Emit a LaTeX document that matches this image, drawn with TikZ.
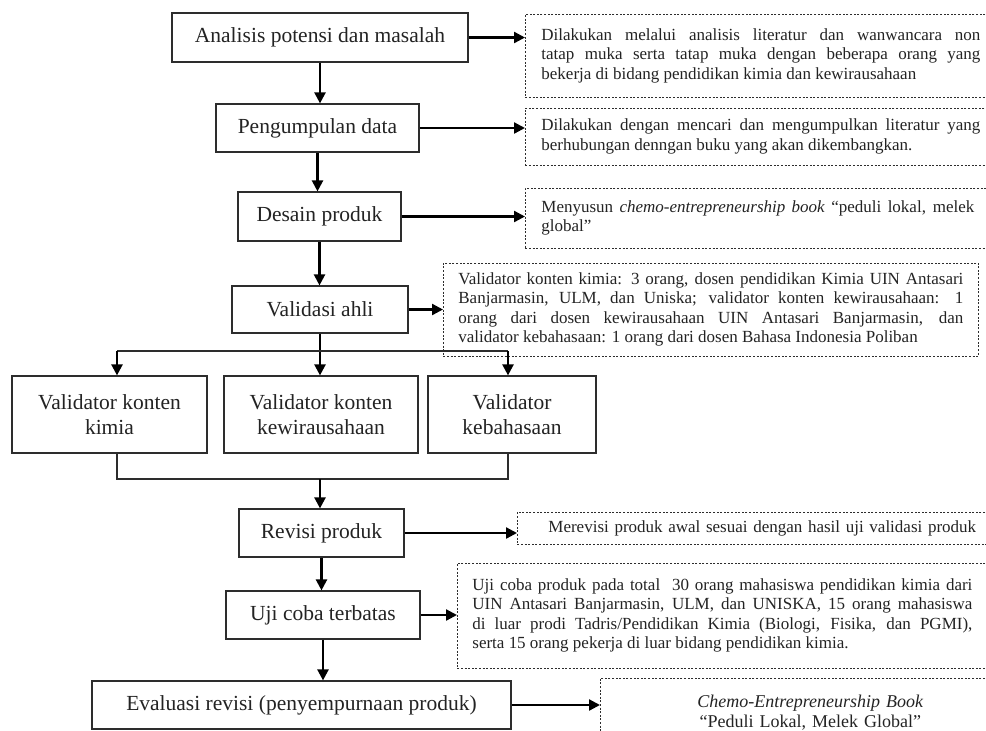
\documentclass[tikz,border=0pt]{standalone}
\usepackage{fontspec}
\setmainfont{Liberation Serif}
\usetikzlibrary{arrows.meta}
\definecolor{txt}{RGB}{35,35,35}
\definecolor{edge}{RGB}{45,45,45}
\begin{document}
\begin{tikzpicture}[x=1pt,y=-1pt,
  mainbox/.style={draw=edge, line width=1.2pt, inner sep=0pt, align=center,
    font=\fontsize{21.5}{25}\selectfont, text=txt},
  note/.style={draw=edge, line width=0.8pt, dash pattern=on 2pt off 1.6pt,
    inner ysep=0pt, inner xsep=16pt, anchor=west,
    font=\fontsize{17}{19.5}\selectfont, text=txt, align=justify},
  arr/.style={draw=black, line width=2.3pt, -{Triangle[length=11pt,width=11pt]}},
  thinline/.style={draw=edge, line width=1.2pt},
  ]
\useasboundingbox (0,0) rectangle (986,731);
\clip (0,0) rectangle (986,731);

% main column
\node[mainbox, minimum width=296pt, minimum height=49pt] (A) at (320,37.5) {Analisis potensi dan masalah};
\node[mainbox, minimum width=203pt, minimum height=48pt] (P) at (317.5,128) {Pengumpulan data};
\node[mainbox, minimum width=163pt, minimum height=49pt] (D) at (319.5,216.5) {Desain produk};
\node[mainbox, minimum width=176pt, minimum height=47pt] (V) at (320,309.5) {Validasi ahli};
\node[mainbox, minimum width=195pt, minimum height=77pt] (VK) at (109.5,414.5) {Validator konten\\kimia};
\node[mainbox, minimum width=194pt, minimum height=77pt] (VW) at (321,414.5) {Validator konten\\kewirausahaan};
\node[mainbox, minimum width=168pt, minimum height=77pt] (VB) at (512,414.5) {Validator\\kebahasaan};
\node[mainbox, minimum width=165pt, minimum height=48pt] (R) at (321.5,533) {Revisi produk};
\node[mainbox, minimum width=194pt, minimum height=48pt] (U) at (323,615) {Uji coba terbatas};
\node[mainbox, minimum width=419pt, minimum height=48pt] (E) at (301.5,705) {Evaluasi revisi (penyempurnaan produk)};

% notes
\node[note, text width=439pt, minimum height=83pt] (n1) at (525,55.5)
 {Dilakukan melalui analisis literatur dan wanwancara non\linebreak
  tatap muka serta tatap muka dengan beberapa orang yang\linebreak
  bekerja di bidang pendidikan kimia dan kewirausahaan};
\node[note, text width=439pt, minimum height=57pt] (n2) at (525,136.5)
 {Dilakukan dengan mencari dan mengumpulkan literatur yang\linebreak
  berhubungan denngan buku yang akan dikembangkan.};
\node[note, text width=433pt, minimum height=60pt] (n3) at (525,218)
 {Menyusun \textit{chemo-entrepreneurship book} “peduli lokal, melek\linebreak
  global”};
\node[note, text width=505pt, minimum height=93pt, inner xsep=15pt] (n4) at (443,309.5)
 {Validator konten kimia: 3 orang, dosen pendidikan Kimia UIN Antasari\linebreak
  Banjarmasin, ULM, dan Uniska; validator konten kewirausahaan: 1\linebreak
  orang dari dosen kewirausahaan UIN Antasari Banjarmasin, dan\linebreak
  validator kebahasaan: 1 orang dari dosen Bahasa Indonesia Poliban};
\node[note, text width=460pt, minimum height=32pt, inner xsep=31pt, align=left] (n5) at (517,528)
 {Merevisi produk awal sesuai dengan hasil uji validasi produk};
\node[note, text width=500pt, minimum height=105pt, inner xsep=15pt] (n6) at (457,615.5)
 {Uji coba produk pada total\ \ 30 orang mahasiswa pendidikan kimia dari\linebreak
  UIN Antasari Banjarmasin, ULM, dan UNISKA, 15 orang mahasiswa\linebreak
  di luar prodi Tadris/Pendidikan Kimia (Biologi, Fisika, dan PGMI),\linebreak
  serta 15 orang pekerja di luar bidang pendidikan kimia.};
\node[note, text width=388pt, minimum height=70pt, align=center,
  font=\fontsize{18}{20}\selectfont] (n7) at (600,713)
 {\textit{Chemo-Entrepreneurship Book}\\“Peduli Lokal, Melek Global”};

% vertical flow
\draw[arr] (A.south) -- (A.south |- P.north);
\draw[arr] (P.south) -- (P.south |- D.north);
\draw[arr] (D.south) -- (D.south |- V.north);
\draw[arr] (V.south) -- (V.south |- VW.north);

% branch
\coordinate (bl) at (117,351);
\coordinate (br) at (508,351);
\draw[thinline] (bl) -- (br);
\draw[arr] (bl) -- (bl |- VK.north);
\draw[arr] (br) -- (br |- VB.north);

% merge
\coordinate (ml) at (117,479);
\coordinate (mr) at (508,479);
\coordinate (mc) at (320,479);
\draw[thinline] (ml |- VK.south) -- (ml) -- (mr) -- (mr |- VB.south);
\draw[arr] (mc) -- (mc |- R.north);
\draw[arr] (R.south) -- (R.south |- U.north);
\draw[arr] (U.south) -- (U.south |- E.north);

% to notes
\draw[arr] (A.east) -- (A.east -| n1.west);
\draw[arr] (P.east) -- (P.east -| n2.west);
\draw[arr] (D.east) -- (D.east -| n3.west);
\draw[arr] (V.east) -- (V.east -| n4.west);
\draw[arr] (R.east) -- (R.east -| n5.west);
\draw[arr] (U.east) -- (U.east -| n6.west);
\draw[arr] (E.east) -- (E.east -| n7.west);
\end{tikzpicture}
\end{document}
